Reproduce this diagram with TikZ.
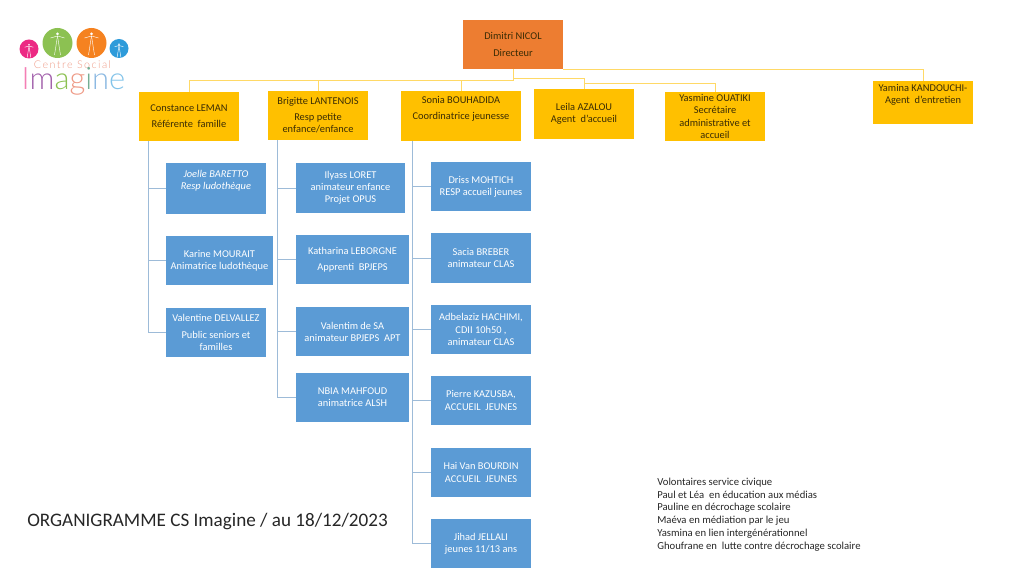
\documentclass[tikz,border=0pt]{standalone}
\usepackage{fontspec}
\usepackage{xcolor}
\setmainfont{Carlito}
\newfontfamily\logofont[LetterSpace=9]{Lato Light}
\newfontfamily\logotopfont[LetterSpace=14]{Lato Light}
\usetikzlibrary{calc,positioning}
\definecolor{goldA}{HTML}{FFC000}
\definecolor{orangeA}{HTML}{ED7D31}
\definecolor{blueA}{HTML}{5B9BD5}
\definecolor{goldline}{HTML}{FFD966}
\definecolor{blueline}{HTML}{9DBBD8}
\definecolor{inkA}{HTML}{3A2C05}
\definecolor{logopink}{HTML}{EC2A84}
\definecolor{logogreen}{HTML}{8CC152}
\definecolor{logoorange}{HTML}{F58220}
\definecolor{logoblue}{HTML}{2E9BDA}
\definecolor{logosalmon}{HTML}{EE9A86}
\tikzset{
  staffbox/.style={rectangle, inner sep=0, align=center, minimum width=2.5cm, minimum height=1.225cm,
    font=\fontsize{7.4}{8.6}\selectfont},
  goldbox/.style={staffbox, fill=goldA, text=inkA},
  bluebox/.style={staffbox, fill=blueA, text=white},
  raisedtext/.style={text depth=12pt},
  goldlink/.style={draw=goldline, line width=0.7pt},
  bluelink/.style={draw=blueline, line width=0.7pt},
  dudeline/.style={draw=white, line width=0.3pt, line cap=round},
}

\begin{document}
\begin{tikzpicture}[x=0.025cm, y=-0.025cm]
  \useasboundingbox (0,0) rectangle (1024,576);
  % Director
  \node[staffbox, fill=orangeA, text=inkA] (dimitri) at (513,44.5) {Dimitri NICOL\\[2.9pt]Directeur};
  % Heads of sector
  \node[goldbox] (constance) at (189,116.5) {Constance LEMAN\\[2.9pt]Référente\ \ famille};
  \node[goldbox] (brigitte) at (318,115.5) {Brigitte LANTENOIS\\[2.9pt]Resp petite\\enfance/enfance};
  \node[goldbox, minimum width=2.975cm, raisedtext] (sonia) at (461,116) {Sonia BOUHADIDA\\[2.9pt]Coordinatrice jeunesse};
  \node[goldbox] (leila) at (584,114) {Leila AZALOU\\Agent\ \ d’accueil};
  \node[goldbox] (yasmine) at (715,116.5) {Yasmine OUATIKI\\Secrétaire\\administrative et\\accueil};
  \node[goldbox, minimum height=1.075cm, raisedtext] (yamina) at (923,102.5) {Yamina KANDOUCHI-\\Agent\ \ d’entretien};
  % Constance team
  \node[bluebox, minimum height=1.275cm, raisedtext] (joelle) at (216,188.5) {\itshape Joelle BARETTO\\\itshape Resp ludothèque};
  \node[bluebox, minimum width=2.675cm] (karine) at (219.5,260.5) {Karine MOURAIT\\Animatrice ludothèque};
  \node[bluebox] (valentine) at (216,332.5) {Valentine DELVALLEZ\\[2.9pt]Public seniors et\\familles};
  % Brigitte team
  \node[bluebox, minimum width=2.725cm, minimum height=1.25cm] (ilyass) at (350.5,188) {Ilyass LORET\\animateur enfance\\Projet OPUS};
  \node[bluebox, minimum width=2.825cm] (katharina) at (352.5,259.5) {Katharina LEBORGNE\\[2.9pt]Apprenti\ \ BPJEPS};
  \node[bluebox, minimum width=2.825cm] (valentim) at (352.5,331.5) {Valentim de SA\\animateur BPJEPS\ \ APT};
  \node[bluebox, minimum width=2.825cm] (nbia) at (352.5,397.5) {NBIA MAHFOUD\\animatrice ALSH};
  % Sonia team
  \node[bluebox] (driss) at (481,186.5) {Driss MOHTICH\\RESP accueil jeunes};
  \node[bluebox] (sacia) at (481,258) {Sacia BREBER\\animateur CLAS};
  \node[bluebox] (adbelaziz) at (481,329.5) {Adbelaziz HACHIMI,\\CDII 10h50 ,\\animateur CLAS};
  \node[bluebox] (pierre) at (481,400.5) {Pierre KAZUSBA,\\ACCUEIL\ \ JEUNES};
  \node[bluebox] (hai) at (481,472.5) {Hai Van BOURDIN\\ACCUEIL\ \ JEUNES};
  \node[bluebox] (jihad) at (481,543.5) {Jihad JELLALI\\jeunes 11/13 ans};
  % Gold links
  \draw[goldlink] (dimitri.south) -- ++(0,11) -| (constance.north);
  \draw[goldlink] (dimitri.south) -- ++(0,11) -| (brigitte.north);
  \draw[goldlink] (dimitri.south) -- ++(0,11) -| (sonia.north);
  \draw[goldlink] (dimitri.south) -- ++(0,9.5) -| (leila.north);
  \draw[goldlink] (leila.north) ++(0,-8) -- ++(0,2) -| (yasmine.north);
  \draw[goldlink] (dimitri.south east) ++(0,0.5) -| (yamina.north);
  % Blue links
  \draw[bluelink] ([xshift=10*0.025cm]constance.south west) |- (joelle.west);
  \draw[bluelink] ([xshift=10*0.025cm]constance.south west) |- (karine.west);
  \draw[bluelink] ([xshift=10*0.025cm]constance.south west) |- (valentine.west);
  \draw[bluelink] ([xshift=10*0.025cm]brigitte.south west) |- (ilyass.west);
  \draw[bluelink] ([xshift=10*0.025cm]brigitte.south west) |- (katharina.west);
  \draw[bluelink] ([xshift=10*0.025cm]brigitte.south west) |- (valentim.west);
  \draw[bluelink] ([xshift=10*0.025cm]brigitte.south west) |- (nbia.west);
  \foreach \who in {driss,sacia,adbelaziz,pierre,hai,jihad}
    \draw[bluelink] ([xshift=11.5*0.025cm]sonia.south west) |- (\who.west);
  % Title and notes
  \node[anchor=west, inner sep=0, font=\fontsize{13.6}{16}\selectfont, text=black!85] (title) at (27,522) {ORGANIGRAMME CS Imagine / au 18/12/2023};
  \node[anchor=north west, align=left, inner sep=0, font=\fontsize{7.6}{9.1}\selectfont, text=black!85] (notes) at (657,477.5)
    {Volontaires service civique\\Paul et Léa\ \ en éducation aux médias\\Pauline en décrochage scolaire\\Maéva en médiation par le jeu\\Yasmina en lien intergénérationnel\\Ghoufrane en\ \ lutte contre décrochage scolaire};
  % Logo
  \fill[logopink] (29,49) circle (9.5);
  \fill[logogreen] (57.5,43) circle (15);
  \fill[logoorange] (91.5,43) circle (15);
  \fill[logoblue] (119,48.5) circle (9.5);
  \foreach \cx/\cy/\s in {29/46/0.6, 57.5/36/1, 91.5/36/1, 119/45.5/0.6} {
    \fill[white] (\cx,\cy) ++(0,-2*\s) circle (1.5*\s);
    \draw[dudeline] (\cx-7*\s,\cy+2*\s) -- (\cx,\cy) -- (\cx+7*\s,\cy+2*\s);
    \draw[dudeline] (\cx,\cy) -- (\cx-3*\s,\cy+19*\s);
    \draw[dudeline] (\cx,\cy) -- (\cx+3*\s,\cy+19*\s);
  }
  \node[font=\logotopfont\fontsize{7.6}{9}\selectfont, text=logosalmon, inner sep=0] (logotop) at (72.5,64.5) {Centre Social};
  \node[font=\logofont\fontsize{22}{26}\selectfont, inner sep=0, anchor=base] (logoname) at (73.5,90)
    {\textcolor{logopink!60}{I}\textcolor{logopink!50!blueA}{m}\textcolor{logogreen}{a}\textcolor{logosalmon}{g}\textcolor{logogreen!50!blueA}{i}\textcolor{blueA!70}{n}\textcolor{logoblue!60}{e}};
\end{tikzpicture}
\end{document}
